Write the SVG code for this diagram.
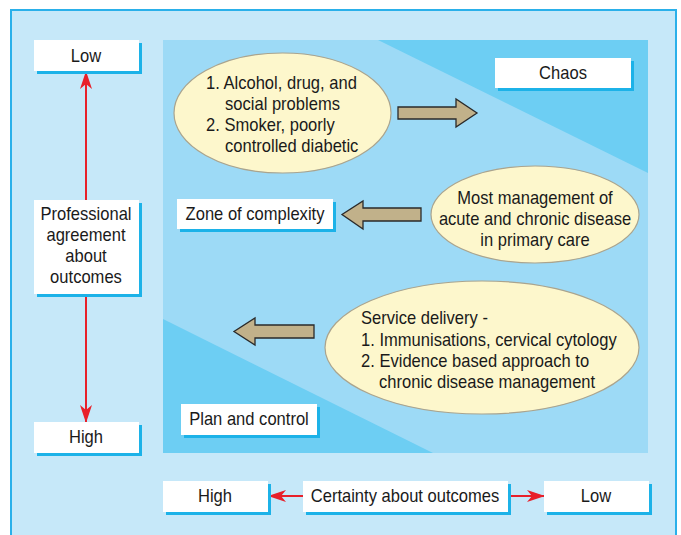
<svg xmlns="http://www.w3.org/2000/svg" width="681" height="535" viewBox="0 0 681 535">
<defs>
<style>
text{font-family:"Liberation Sans",Arial,sans-serif;font-size:18px;fill:#1a1a1a}
.c{text-anchor:middle}
.box{fill:#fff}
.sh{fill:#1cb2e8}
.ell{fill:#fdf7cc;stroke:#aaa48e;stroke-width:1.2}
.blk{fill:#c1b18a;stroke:#2a2a2a;stroke-width:1.3;stroke-linejoin:miter}
.red{stroke:#e8202a;stroke-width:2;fill:none}
</style>
<marker id="ah" viewBox="0 0 18 12" refX="17" refY="6" markerWidth="18" markerHeight="12" markerUnits="userSpaceOnUse" orient="auto">
<path d="M0,0 L18,6 L0,12 L5,6 Z" fill="#e8202a"/>
</marker>
</defs>
<rect x="0" y="0" width="681" height="535" fill="#fff"/>
<rect x="11" y="10" width="665" height="530" fill="#c6e8f9" stroke="#2ab0ea" stroke-width="2"/>
<g id="field">
<rect x="163" y="40" width="485" height="413" fill="#9ddaf6"/>
<polygon points="378,40 648,40 648,173" fill="#6dcef3"/>
<polygon points="163,319 163,453 433,453" fill="#6dcef3"/>
</g>
<g id="connectors">
<line class="red" x1="86" y1="200" x2="86" y2="72" marker-end="url(#ah)"/>
<line class="red" x1="86" y1="294" x2="86" y2="422" marker-end="url(#ah)"/>
<line class="red" x1="303" y1="496" x2="269" y2="496" marker-end="url(#ah)"/>
<line class="red" x1="508" y1="496" x2="544" y2="496" marker-end="url(#ah)"/>
<polygon class="blk" points="398,107 456,107 456,99 477,113 456,127 456,119 398,119"/>
<polygon class="blk" points="421,208 363,208 363,201 342,214.5 363,229 363,221 421,221"/>
<polygon class="blk" points="314,325 255,325 255,318 234,331.5 255,345 255,338 314,338"/>
</g>
<g id="low-top">
<rect class="sh" x="37" y="43" width="105" height="31"/>
<rect class="box" x="34" y="40" width="105" height="31"/>
<text class="c" transform="translate(86,62) scale(0.92,1)">Low</text>
</g>
<g id="professional">
<rect class="sh" x="37" y="203" width="105" height="94"/>
<rect class="box" x="34" y="200" width="105" height="94"/>
<text class="c" transform="translate(86,220) scale(0.92,1)">Professional</text>
<text class="c" transform="translate(86,241) scale(0.92,1)">agreement</text>
<text class="c" transform="translate(86,262) scale(0.92,1)">about</text>
<text class="c" transform="translate(86,283) scale(0.92,1)">outcomes</text>
</g>
<g id="high-left">
<rect class="sh" x="37" y="425" width="105" height="31"/>
<rect class="box" x="34" y="422" width="105" height="31"/>
<text class="c" transform="translate(86,443) scale(0.92,1)">High</text>
</g>
<g id="chaos">
<rect class="sh" x="498" y="61" width="136" height="30"/>
<rect class="box" x="495" y="58" width="136" height="30"/>
<text class="c" transform="translate(563,79) scale(0.92,1)">Chaos</text>
</g>
<g id="zone">
<rect class="sh" x="180" y="202" width="156" height="30"/>
<rect class="box" x="177" y="199" width="156" height="30"/>
<text class="c" transform="translate(255,220) scale(0.92,1)">Zone of complexity</text>
</g>
<g id="plan">
<rect class="sh" x="184" y="407" width="136" height="31"/>
<rect class="box" x="181" y="404" width="136" height="31"/>
<text class="c" transform="translate(249,425) scale(0.92,1)">Plan and control</text>
</g>
<g id="high-bottom">
<rect class="sh" x="166" y="484" width="105" height="31"/>
<rect class="box" x="163" y="481" width="105" height="31"/>
<text class="c" transform="translate(215,502) scale(0.92,1)">High</text>
</g>
<g id="certainty">
<rect class="sh" x="306" y="484" width="205" height="31"/>
<rect class="box" x="303" y="481" width="205" height="31"/>
<text class="c" transform="translate(405,502) scale(0.92,1)">Certainty about outcomes</text>
</g>
<g id="low-bottom">
<rect class="sh" x="547" y="484" width="105" height="31"/>
<rect class="box" x="544" y="481" width="105" height="31"/>
<text class="c" transform="translate(596,502) scale(0.92,1)">Low</text>
</g>
<g id="ellipse-chaos">
<ellipse class="ell" cx="282.5" cy="113" rx="108.5" ry="60"/>
<text transform="translate(206,89) scale(0.92,1)">1. Alcohol, drug, and</text>
<text transform="translate(225,110) scale(0.92,1)">social problems</text>
<text transform="translate(206,131) scale(0.92,1)">2. Smoker, poorly</text>
<text transform="translate(225,152) scale(0.92,1)">controlled diabetic</text>
</g>
<g id="ellipse-complexity">
<ellipse class="ell" cx="535" cy="214.5" rx="104" ry="48.5"/>
<text class="c" transform="translate(535,204) scale(0.92,1)">Most management of</text>
<text class="c" transform="translate(535,225) scale(0.92,1)">acute and chronic disease</text>
<text class="c" transform="translate(535,246) scale(0.92,1)">in primary care</text>
</g>
<g id="ellipse-plan">
<ellipse class="ell" cx="482" cy="347.5" rx="157" ry="66.5"/>
<text transform="translate(361,324) scale(0.92,1)">Service delivery -</text>
<text transform="translate(361,346) scale(0.92,1)">1. Immunisations, cervical cytology</text>
<text transform="translate(361,367) scale(0.92,1)">2. Evidence based approach to</text>
<text transform="translate(379,388) scale(0.92,1)">chronic disease management</text>
</g>
</svg>
